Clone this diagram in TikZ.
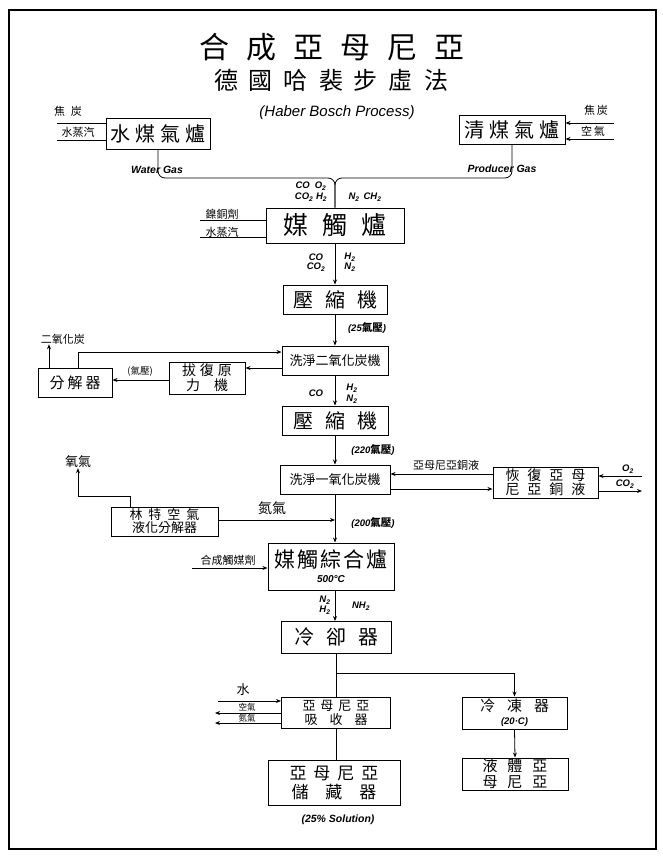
\documentclass[tikz,border=0pt]{standalone}
\usepackage{fontspec}
\setmainfont{Liberation Sans}
\newfontfamily\cjk{Noto Sans CJK TC}
\usetikzlibrary{arrows.meta}
\begin{document}
\begin{tikzpicture}[x=1pt,y=-1pt,
 box/.style={draw,line width=1pt,inner sep=0pt,align=center},
 arr/.style={-{Stealth[length=5pt,width=4pt]},line width=0.8pt},
 ln/.style={line width=0.8pt},
 lab/.style={font=\itshape\bfseries\fontsize{9.5}{10}\selectfont,inner sep=0pt},
 clab/.style={font=\cjk\fontsize{10}{11}\selectfont,inner sep=0pt}]
\useasboundingbox (0,0) rectangle (663,863);
\fill[white] (0,0) rectangle (663,863);
\draw[line width=1.6pt] (9,10) rectangle (656,849);

% titles
\node[inner sep=0pt,font=\cjk\fontsize{30}{30}\selectfont] (t1) at (332,47) {合\hspace{17pt}成\hspace{17pt}亞\hspace{17pt}母\hspace{17pt}尼\hspace{17pt}亞};
\node[inner sep=0pt,font=\cjk\fontsize{24}{24}\selectfont] (t2) at (331,80) {德\hspace{11pt}國\hspace{11pt}哈\hspace{11pt}裴\hspace{11pt}步\hspace{11pt}虛\hspace{11pt}法};
\node[inner sep=0pt,font=\itshape\fontsize{15}{15}\selectfont] (t3) at (337,113) {(Haber Bosch Process)};

% boxes
\node[box,minimum width=104pt,minimum height=31pt,font=\cjk\fontsize{20}{20}\selectfont] (wg) at (158,133.5) {水\hspace{5pt}煤\hspace{5pt}氣\hspace{5pt}爐};
\node[box,minimum width=106pt,minimum height=29pt,font=\cjk\fontsize{20}{20}\selectfont] (pg) at (512,129.5) {清\hspace{5pt}煤\hspace{5pt}氣\hspace{5pt}爐};
\node[box,minimum width=138pt,minimum height=35pt,font=\cjk\fontsize{25}{25}\selectfont] (cat1) at (335,225.5) {媒\hspace{14pt}觸\hspace{14pt}爐};
\node[box,minimum width=104pt,minimum height=29pt,font=\cjk\fontsize{20}{20}\selectfont] (comp1) at (335,299.5) {壓\hspace{12pt}縮\hspace{12pt}機};
\node[box,minimum width=106pt,minimum height=29pt,font=\cjk\fontsize{13}{13}\selectfont] (wash2) at (335,360.5) {洗淨二氧化炭機};
\node[box,minimum width=76pt,minimum height=32pt,font=\cjk\fontsize{14}{15}\selectfont] (rest) at (207,378) {拔\hspace{4pt}復\hspace{4pt}原\\力\hspace{14pt}機};
\node[box,minimum width=74pt,minimum height=29pt,font=\cjk\fontsize{15}{15}\selectfont] (sep) at (75,382.5) {分\hspace{3pt}解\hspace{3pt}器};
\node[box,minimum width=106pt,minimum height=29pt,font=\cjk\fontsize{20}{20}\selectfont] (comp2) at (335,420.5) {壓\hspace{12pt}縮\hspace{12pt}機};
\node[box,minimum width=110pt,minimum height=29pt,font=\cjk\fontsize{13}{13}\selectfont] (wash1) at (335,479.5) {洗淨一氧化炭機};
\node[box,minimum width=105pt,minimum height=31pt,font=\cjk\fontsize{14}{14}\selectfont] (regen) at (545.5,482.5) {恢\hspace{8pt}復\hspace{8pt}亞\hspace{8pt}母\\尼\hspace{8pt}亞\hspace{8pt}銅\hspace{8pt}液};
\node[box,minimum width=107pt,minimum height=29pt,font=\cjk\fontsize{13}{13}\selectfont] (linde) at (164.5,521.5) {林\hspace{6pt}特\hspace{6pt}空\hspace{6pt}氣\\液化分解器};
\node[box,minimum width=126pt,minimum height=47pt] (synth) at (331,566.5) {{\cjk\fontsize{21}{21}\selectfont 媒\hspace{2pt}觸\hspace{2pt}綜\hspace{2pt}合\hspace{2pt}爐}\\[3pt]{\itshape\bfseries\fontsize{10}{10}\selectfont 500°C}};
\node[box,minimum width=110pt,minimum height=32pt,font=\cjk\fontsize{20}{20}\selectfont] (cool) at (336,637) {冷\hspace{12pt}卻\hspace{12pt}器};
\node[box,minimum width=109pt,minimum height=31pt,font=\cjk\fontsize{13}{14}\selectfont] (absorb) at (336,712.5) {亞\hspace{5pt}母\hspace{5pt}尼\hspace{5pt}亞\\吸\hspace{12pt}收\hspace{12pt}器};
\node[box,minimum width=132pt,minimum height=45pt,font=\cjk\fontsize{17}{19}\selectfont] (store) at (334,782.5) {亞\hspace{7pt}母\hspace{7pt}尼\hspace{7pt}亞\\儲\hspace{17pt}藏\hspace{17pt}器};
\node[box,minimum width=105pt,minimum height=32pt] (freeze) at (514.5,713) {{\cjk\fontsize{15}{15}\selectfont 冷\hspace{12pt}凍\hspace{12pt}器}\\[1pt]{\itshape\bfseries\fontsize{9.5}{9.5}\selectfont (20·C)}};
\node[box,minimum width=106pt,minimum height=32pt,font=\cjk\fontsize{15}{16}\selectfont] (liquid) at (515,774) {液\hspace{10pt}體\hspace{10pt}亞\\母\hspace{10pt}尼\hspace{10pt}亞};

% top inputs
\node[clab,font=\cjk\fontsize{11}{11}\selectfont] (in1) at (68,111) {焦\hspace{6pt}炭};
\node[clab,font=\cjk\fontsize{11}{11}\selectfont] (in2) at (78,132) {水蒸汽};
\draw[ln] (57,123) -- (wg.west |- 0,123);
\draw[ln] (57,140) -- (wg.west |- 0,140);
\node[clab,font=\cjk\fontsize{11}{11}\selectfont] (in3) at (596,110) {焦\hspace{2pt}炭};
\node[clab,font=\cjk\fontsize{11}{11}\selectfont] (in4) at (593,131) {空\hspace{2pt}氣};
\draw[arr] (614,123) -- (pg.east |- 0,123);
\draw[arr] (614,139) -- (pg.east |- 0,139);

% merge into cat1
\coordinate (m) at (335,178);
\draw[ln,rounded corners=7pt] (wg.south) |- (m) -- (cat1.north);
\draw[ln,rounded corners=7pt] (pg.south) |- (m) -- (cat1.north);
\node[lab,font=\itshape\bfseries\fontsize{10.5}{11}\selectfont] (wgl) at (157,170) {Water Gas};
\node[lab,font=\itshape\bfseries\fontsize{10.5}{11}\selectfont] (pgl) at (502,169) {Producer Gas};
\node[lab] (l1) at (311,186) {CO\hspace{5pt}O\textsubscript{2}};
\node[lab] (l2) at (311,197) {CO\textsubscript{2} H\textsubscript{2}};
\node[lab] (l3) at (365,197) {N\textsubscript{2}\hspace{4pt}CH\textsubscript{2}};

% cat1 inputs
\node[clab,font=\cjk\fontsize{11}{11}\selectfont] (in5) at (222,214) {鎳銅劑};
\node[clab,font=\cjk\fontsize{11}{11}\selectfont] (in6) at (222,232) {水蒸汽};
\draw[ln] (200,220) -- (cat1.west |- 0,220);
\draw[ln] (200,237) -- (cat1.west |- 0,237);

% cat1 -> comp1
\draw[arr] (cat1.south) -- (comp1.north);
\node[lab] at (316,257) {CO};
\node[lab] at (316,267) {CO\textsubscript{2}};
\node[lab] at (350,257) {H\textsubscript{2}};
\node[lab] at (350,267) {N\textsubscript{2}};

% comp1 -> wash2
\draw[arr] (comp1.south) -- (wash2.north);
\node[inner sep=0pt,font=\itshape\bfseries\fontsize{9.5}{9.5}\selectfont] at (367,328) {(25{\cjk\fontsize{10.5}{10.5}\selectfont 氣壓})};

% CO2 removal loop
\node[clab,font=\cjk\fontsize{11}{11}\selectfont] (co2o) at (63,339) {二氧化炭};
\draw[arr] ([xshift=-26pt]sep.north) -- ([xshift=-26pt]sep.north |- co2o.south);
\draw[arr] ([xshift=3pt]sep.north) |- ([yshift=8.5pt]wash2.west);
\draw[arr] ([yshift=-7.5pt]wash2.west) -- ([yshift=-7.5pt]wash2.west -| rest.east);
\draw[arr] (rest.west |- 0,380) -- (sep.east |- 0,380);
\node[clab,font=\cjk\fontsize{9.5}{9.5}\selectfont] at (140,371) {(氣壓)};

% wash2 -> comp2
\draw[arr] (wash2.south) -- (comp2.north);
\node[lab] at (316,393) {CO};
\node[lab] at (352,388) {H\textsubscript{2}};
\node[lab] at (352,399) {N\textsubscript{2}};

% comp2 -> wash1
\draw[arr] (comp2.south) -- (wash1.north);
\node[inner sep=0pt,font=\itshape\bfseries\fontsize{9.5}{9.5}\selectfont] at (373,450) {(220{\cjk\fontsize{10.5}{10.5}\selectfont 氣壓})};

% copper liquor loop
\draw[arr] (regen.west |- 0,474) -- (wash1.east |- 0,474);
\draw[arr] (wash1.east |- 0,489) -- (regen.west |- 0,489);
\node[clab,font=\cjk\fontsize{11}{11}\selectfont] at (446,465) {亞母尼亞銅液};
\draw[arr] (642,476) -- (regen.east |- 0,476);
\draw[arr] (regen.east |- 0,491) -- (642,491);
\node[lab] at (628,469) {O\textsubscript{2}};
\node[lab] at (625,484) {CO\textsubscript{2}};

% wash1 -> synth, Linde
\draw[arr] (wash1.south) -- (wash1.south |- synth.north);
\coordinate (j) at (335,520);
\draw[arr] (linde.east |- j) -- (j);
\node[clab,font=\cjk\fontsize{14}{14}\selectfont] at (272,508) {氮氣};
\node[inner sep=0pt,font=\itshape\bfseries\fontsize{9.5}{9.5}\selectfont] at (373,523) {(200{\cjk\fontsize{10.5}{10.5}\selectfont 氣壓})};
\node[clab,font=\cjk\fontsize{13}{13}\selectfont] (o2l) at (78,462) {氧氣};
\draw[arr] ([xshift=-34.5pt]linde.north) -- ++(0,-10) -| (o2l.south);

% synth input
\node[clab,font=\cjk\fontsize{11}{11}\selectfont] at (228,560) {合成觸媒劑};
\draw[arr] (192,568) -- (synth.west |- 0,568);

% synth -> cool
\draw[arr] (335,590) -- (335,621);
\node[lab] at (325,600) {N\textsubscript{2}};
\node[lab] at (325,610) {H\textsubscript{2}};
\node[lab] at (361,606) {NH\textsubscript{2}};

% cool -> absorb, branch to freeze
\draw[ln] (cool.south) -- (absorb.north);
\draw[arr] (cool.south |- 0,673) -| (freeze.north);

% absorber water and gases
\node[clab,font=\cjk\fontsize{13}{13}\selectfont] at (243,690) {水};
\draw[arr] (218,701) -- (absorb.west |- 0,701);
\draw[arr] (absorb.west |- 0,713) -- (215,713);
\draw[arr] (absorb.west |- 0,723) -- (215,723);
\node[clab,font=\cjk\fontsize{8.5}{8.5}\selectfont] at (247,707) {空氣};
\node[clab,font=\cjk\fontsize{8.5}{8.5}\selectfont] at (247,718) {氮氣};

% absorb -> store
\draw[line width=0.5pt] (absorb.south) -- (absorb.south |- store.north);
\node[inner sep=0pt,font=\itshape\bfseries\fontsize{10.5}{10.5}\selectfont] at (338,820) {(25\% Solution)};

% freeze -> liquid
\draw[arr] (freeze.south) -- (liquid.north);
\end{tikzpicture}
\end{document}
